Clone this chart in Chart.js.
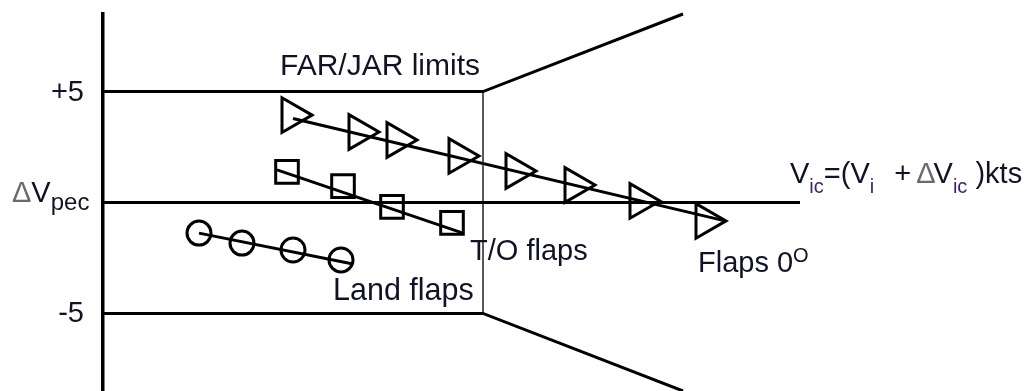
<!DOCTYPE html>
<html>
<head>
<meta charset="utf-8">
<script src="https://cdn.jsdelivr.net/npm/chart.js@4.4.1/dist/chart.umd.min.js"></script>
<style>
  html, body { margin: 0; padding: 0; background: #fff; }
  #wrap { width: 1028px; height: 391px; position: relative; }
</style>
</head>
<body>
<div id="wrap"><canvas id="id-grafico"></canvas></div>
<script>
// values (x in arbitrary speed units, y in kts)
const triX = [18.9, 25.6, 29.4, 35.6, 41.3, 47.2, 53.7, 60.3];
const triY = [3.94, 3.18, 2.82, 2.10, 1.42, 0.79, 0.07, -0.83];
const triFitX = [19.0, 62.2];
const triFitY = [3.79, -0.83];

const sqX = [18.4, 24.0, 28.9, 34.9];
const sqY = [1.38, 0.74, -0.20, -0.92];
const sqFitX = [17.4, 36.0];
const sqFitY = [1.47, -1.38];

const circX = [9.6, 13.9, 19.0, 23.8];
const circY = [-1.38, -1.83, -2.14, -2.59];
const circFitX = [9.6, 25.0];
const circFitY = [-1.38, -2.77];

const limitX = [0, 38, 58];
const upperLimitY = [5, 5, 8.5];
const lowerLimitY = [-5, -5, -8.5];
const zeroX = [0, 69.7];
const zeroY = [0, 0];
const splitX = [38, 38];
const splitY = [5, -5];

const yTicks = [5, -5];
const yTickLabels = ['+5', '-5'];

const textColor = '#121226';
const subColor = '#3d1f6b';
const deltaColor = '#6a6a6a';
const fontFamily = '"Liberation Sans", Arial, sans-serif';

// text pieces drawn at data positions
const chartLabels = [
  {x: 17.7, y: 5.75, parts: [{text: 'FAR/JAR limits', size: 30}]},
  {x: 36.7, y: -2.59, parts: [{text: 'T/O flaps', size: 29}]},
  {x: 23.0, y: -4.40, parts: [{text: 'Land flaps', size: 30.5}]},
  {x: 59.5, y: -3.13, parts: [{text: 'Flaps 0', size: 29}, {text: 'O', size: 20, dy: -10}]},
  {x: -9.1, y: 0.02, parts: [
    {text: 'Δ', size: 29, color: deltaColor},
    {text: 'V', size: 29},
    {text: 'pec', size: 24, dy: 8}
  ]},
  {x: 68.7, y: 0.88, parts: [
    {text: 'V', size: 29},
    {text: 'ic', size: 20, dy: 10, color: subColor},
    {text: '=(V', size: 29},
    {text: 'i', size: 20, dy: 10, color: subColor},
    {text: '  +', size: 29, gap: 4},
    {text: 'Δ', size: 29, gap: 5, color: deltaColor},
    {text: 'V', size: 29, gap: -2},
    {text: 'ic', size: 20, dy: 10, color: subColor},
    {text: ' )kts', size: 29}
  ]}
];

function pts(xs, ys) {
  return xs.map((v, i) => ({x: v, y: ys[i]}));
}

function lineSet(xs, ys, width, color) {
  return {
    data: pts(xs, ys),
    borderColor: color || '#000',
    borderWidth: width,
    pointRadius: 0,
    showLine: true,
    fill: false,
    tension: 0,
    clip: false
  };
}

function markerSet(xs, ys, style, radius, rotation) {
  return {
    data: pts(xs, ys),
    showLine: false,
    pointStyle: style,
    pointRadius: radius,
    pointRotation: rotation || 0,
    pointBorderColor: '#000',
    pointBackgroundColor: 'rgba(0,0,0,0)',
    pointBorderWidth: 3,
    clip: false
  };
}

const labelPlugin = {
  id: 'labels',
  afterDraw(chart) {
    const {ctx, scales} = chart;
    ctx.save();
    ctx.textBaseline = 'middle';
    ctx.textAlign = 'right';
    ctx.font = '29px ' + fontFamily;
    ctx.fillStyle = textColor;
    // tick labels for +5 / -5, placed with the y scale
    yTicks.forEach((v, i) => {
      ctx.fillText(yTickLabels[i], scales.y.left + 84, scales.y.getPixelForValue(v) + 1);
    });
    ctx.textBaseline = 'alphabetic';
    ctx.textAlign = 'left';
    for (const lab of chartLabels) {
      let px = scales.x.getPixelForValue(lab.x);
      const py = scales.y.getPixelForValue(lab.y);
      for (const p of lab.parts) {
        ctx.font = p.size + 'px ' + fontFamily;
        ctx.fillStyle = p.color || textColor;
        px += p.gap || 0;
        ctx.fillText(p.text, px, py + (p.dy || 0));
        px += ctx.measureText(p.text).width;
      }
    }
    ctx.restore();
  }
};

new Chart('id-grafico', {
  type: 'scatter',
  data: {
    datasets: [
      lineSet(zeroX, zeroY, 3),
      lineSet(limitX, upperLimitY, 3),
      lineSet(limitX, lowerLimitY, 3),
      lineSet(splitX, splitY, 1.5, '#222'),
      lineSet(triFitX, triFitY, 3),
      lineSet(sqFitX, sqFitY, 3),
      lineSet(circFitX, circFitY, 3),
      markerSet(triX, triY, 'triangle', 20, 90),
      markerSet(sqX, sqY, 'rect', 16),
      markerSet(circX, circY, 'circle', 12)
    ]
  },
  options: {
    responsive: true,
    maintainAspectRatio: false,
    animation: false,
    layout: {autoPadding: false, padding: {top: 14, bottom: 0, left: 0, right: 0}},
    plugins: {legend: {display: false}, tooltip: {enabled: false}},
    scales: {
      x: {type: 'linear', display: false, min: 0, max: 92.5},
      y: {
        type: 'linear',
        min: -8.5,
        max: 8.5,
        grid: {display: false},
        border: {display: true, color: '#000', width: 3.5},
        ticks: {display: false},
        afterFit(scale) { scale.width = 103; }
      }
    }
  },
  plugins: [labelPlugin]
});
</script>
</body>
</html>
